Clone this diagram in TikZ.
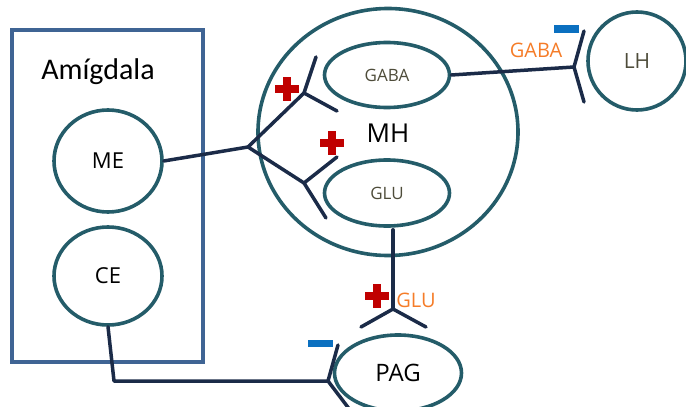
\documentclass[tikz,border=0pt]{standalone}
\usepackage{fontspec}
\setmainfont{Open Sans}
\newfontfamily\labelfont{Carlito}
\usetikzlibrary{shapes.geometric}
\begin{document}
\begin{tikzpicture}[x=1pt,y=-1pt,
  region/.style={draw=regionteal,line width=3.6pt,ellipse,inner sep=0pt},
  nerve/.style={draw=nervenavy,line width=3.5pt,line cap=round,line join=round},
  txt/.style={font=\fontsize{22}{24}\selectfont,text=black},
  inner/.style={font=\fontsize{17}{19}\selectfont,text=olivegrey},
  tag/.style={font=\fontsize{20}{22}\selectfont,text=tagorange},
  plussign/.style={fill=plusred},
  minussign/.style={fill=minusblue}]
\definecolor{regionteal}{HTML}{245C69}
\definecolor{nervenavy}{HTML}{1B2B48}
\definecolor{boxblue}{HTML}{3F6494}
\definecolor{olivegrey}{HTML}{4E4C3A}
\definecolor{tagorange}{HTML}{F57C28}
\definecolor{plusred}{HTML}{C00000}
\definecolor{minusblue}{HTML}{0B70C0}
\useasboundingbox (0,0) rectangle (686,407);

% amygdala box
\node[draw=boxblue,line width=3.4pt,minimum width=191pt,minimum height=332pt,inner sep=0pt] (amy) at (107.5,196) {};
\node[font=\labelfont\fontsize{30}{32}\selectfont] (amylabel) at (98,72) {Amígdala};
\node[region,minimum width=108pt,minimum height=102pt,txt] (me) at (108,161) {ME};
\node[region,minimum width=108pt,minimum height=98pt,txt] (ce) at (108,276) {CE};

% hypothalamus
\node[region,minimum width=260pt,minimum height=247pt] (mh) at (388,132) {};
\node[txt,font=\fontsize{26}{28}\selectfont] (mhlabel) at (388,133) {MH};
\node[region,minimum width=125pt,minimum height=65pt,inner] (gaba) at (387,75) {GABA};
\node[region,minimum width=125pt,minimum height=66pt,inner] (glu) at (387,193) {GLU};

% targets
\node[region,minimum width=98pt,minimum height=98pt,font=\fontsize{21}{23}\selectfont,text=olivegrey] (lh) at (637,61) {LH};
\node[region,minimum width=127pt,minimum height=76pt,font=\fontsize{24}{26}\selectfont] (pag) at (398,373) {PAG};

% junction points
\coordinate (j1) at (248,147);
\coordinate (ja) at (304,93);
\coordinate (jb) at (304,183);
\coordinate (jg) at (574,67);
\coordinate (jp) at (393,309);
\coordinate (jc) at (328,381);
\coordinate (ce1) at (114,381);

% ME projection onto the two MH populations
\draw[nerve] (me.east) -- (j1);
\draw[nerve] (j1) -- (ja);
\draw[nerve] (j1) -- (jb);
\draw[nerve] (316,57) -- (ja) -- (337,111);
\draw[nerve] (337,157) -- (jb) -- (326,218);

% GABA onto LH
\draw[nerve] (gaba.east) -- (jg);
\draw[nerve] (584,31) -- (jg) -- (584,102);
\node[tag] (tgaba) at (536,50) {GABA};
\fill[minussign] (554,25) rectangle (579,33);

% GLU onto PAG
\draw[nerve] (glu.south) ++(6,2) coordinate (gs) -- (jp);
\draw[nerve] (361,327) -- (jp) -- (426,327);
\node[tag] (tglu) at (416,300) {GLU};

% CE onto PAG
\draw[nerve] (ce.south) -- (ce1) -- (jc);
\draw[nerve] (338,345) -- (jc) -- (350,410);
\fill[minussign] (308,340) rectangle (333,347);

% excitatory marks
\foreach \cx/\cy in {287/89, 332/143, 377/296}{
  \fill[plussign] (\cx-12,\cy-4) rectangle (\cx+12,\cy+4);
  \fill[plussign] (\cx-4,\cy-12) rectangle (\cx+4,\cy+12);
}
\end{tikzpicture}
\end{document}
